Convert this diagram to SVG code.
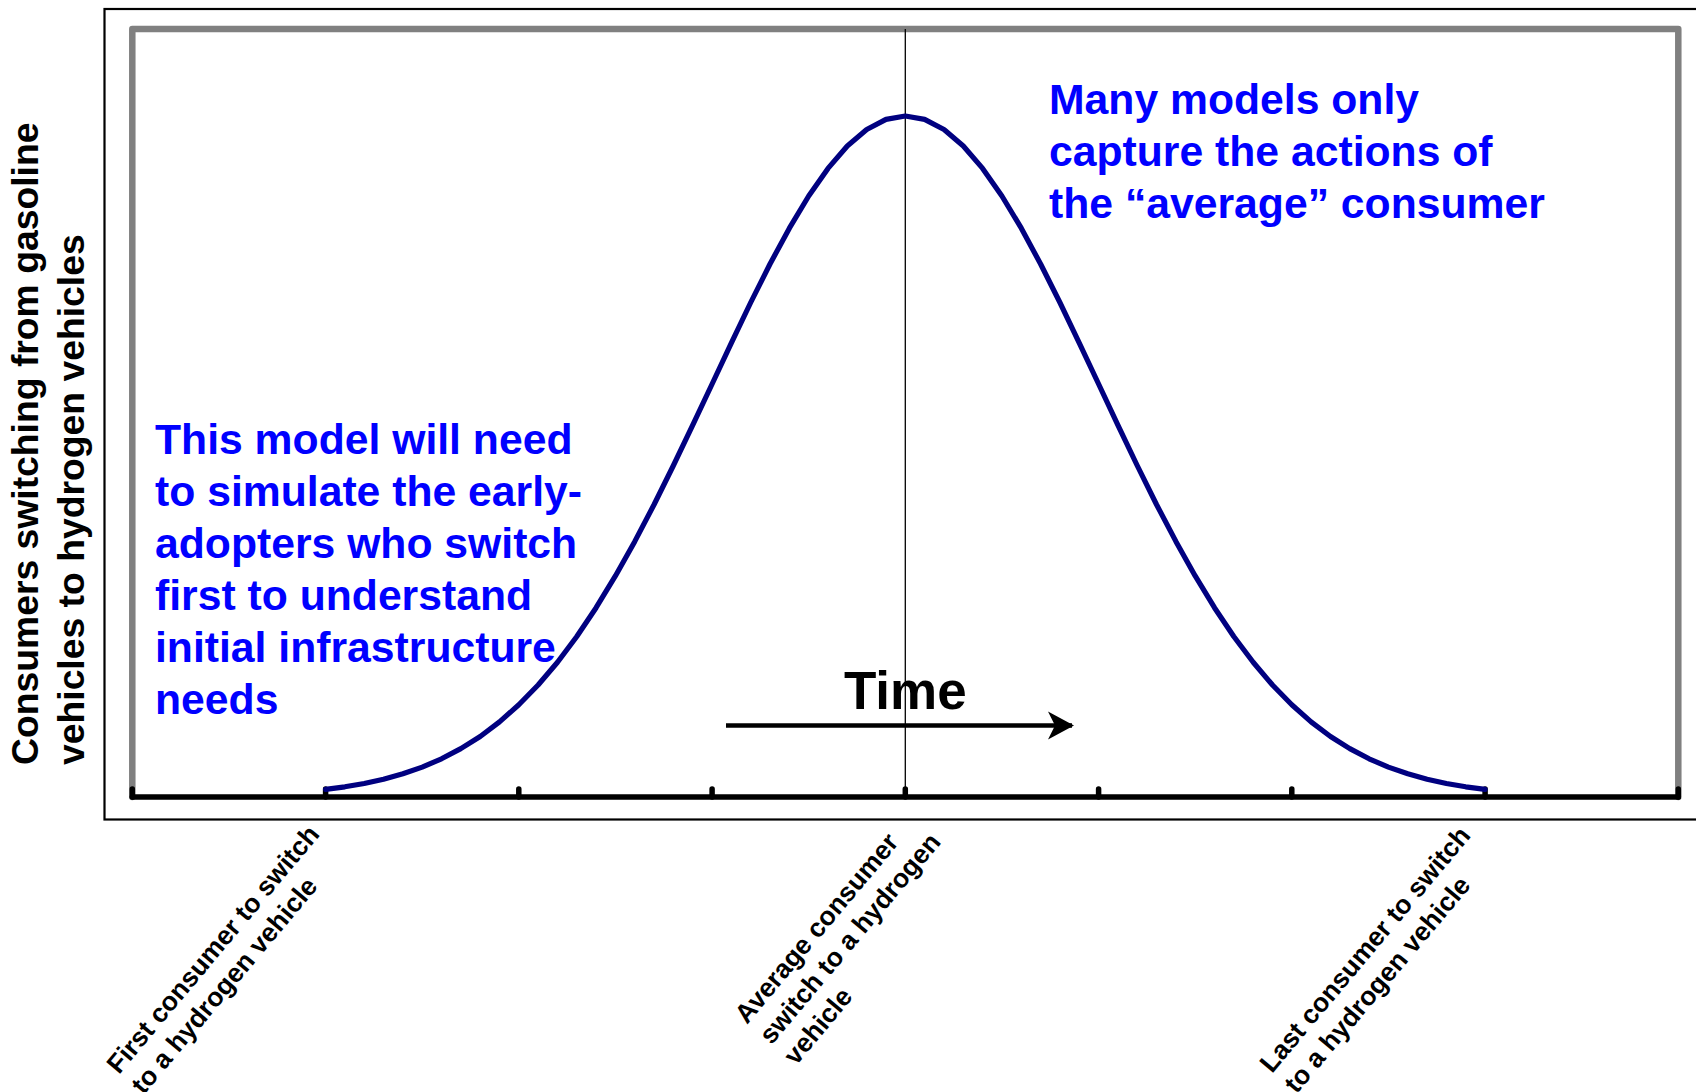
<svg xmlns="http://www.w3.org/2000/svg" width="1696" height="1092" viewBox="0 0 1696 1092">
  <defs>
    <style>
      .lbl { font-family: "Liberation Sans", Arial, sans-serif; font-weight: bold; }
      .blue { fill: #0000FF; font-size: 42.7px; }
      .ylab { fill: #000; font-size: 37.3px; }
      .xlab { fill: #000; font-size: 26.5px; }
      .time { fill: #000; font-size: 53px; }
      .gray { stroke: #808080; stroke-width: 6.5; fill: none; stroke-linecap: round; stroke-linejoin: round; }
      .axis { stroke: #000; stroke-width: 5.5; fill: none; stroke-linecap: round; }
    </style>
    <marker id="arrowhead" markerUnits="userSpaceOnUse" markerWidth="30" markerHeight="30" viewBox="0 0 30 30" refX="24" refY="15" orient="auto">
      <path d="M0,1 L26,15 L0,29 L7,15 Z" fill="#000"/>
    </marker>
  </defs>
  <rect width="1696" height="1092" fill="#fff"/>

  <g id="frame">
    <rect x="104.5" y="9" width="1620" height="810.5" fill="none" stroke="#000" stroke-width="2.2"/>
    <path class="gray" d="M132.3,797 L132.3,29 L1678.3,29 L1678.3,797"/>
  </g>

  <g id="axis">
    <line class="axis" x1="132.3" y1="797" x2="1678.3" y2="797"/>
    <path class="axis" d="M132.3,789 V797 M325.6,789 V797 M518.8,789 V797 M712.1,789 V797 M905.3,789 V797 M1098.6,789 V797 M1291.8,789 V797 M1485.1,789 V797 M1678.3,789 V797"/>
  </g>

  <g id="connectors">
    <line id="center-line" x1="905.3" y1="29" x2="905.3" y2="797" stroke="#000" stroke-width="1.3"/>
    <line id="time-arrow" x1="726" y1="725.5" x2="1072" y2="725.5" stroke="#000" stroke-width="4.5" marker-end="url(#arrowhead)"/>
  </g>

  <g id="curve">
    <path d="M325.6,789.4 L344.9,786.8 L364.2,783.5 L383.5,779.2 L402.9,773.8 L422.2,767.1 L441.5,758.8 L460.8,748.6 L480.2,736.5 L499.5,721.9 L518.8,704.8 L538.1,685.0 L557.5,662.2 L576.8,636.5 L596.1,607.7 L615.4,575.9 L634.8,541.4 L654.1,504.5 L673.4,465.5 L692.7,425.1 L712.1,384.0 L731.4,342.8 L750.7,302.5 L770.0,264.0 L789.4,228.2 L808.7,196.0 L828.0,168.4 L847.3,146.0 L866.7,129.5 L886.0,119.4 L905.3,116.0 L924.6,119.4 L944.0,129.5 L963.3,146.0 L982.6,168.4 L1001.9,196.0 L1021.3,228.2 L1040.6,264.0 L1059.9,302.5 L1079.2,342.8 L1098.6,384.0 L1117.9,425.1 L1137.2,465.5 L1156.5,504.5 L1175.9,541.4 L1195.2,575.9 L1214.5,607.7 L1233.8,636.5 L1253.2,662.2 L1272.5,685.0 L1291.8,704.8 L1311.1,721.9 L1330.5,736.5 L1349.8,748.6 L1369.1,758.8 L1388.4,767.1 L1407.8,773.8 L1427.1,779.2 L1446.4,783.5 L1465.7,786.8 L1485.1,789.4" fill="none" stroke="#000080" stroke-width="5.2" stroke-linejoin="round" stroke-linecap="round"/>
  </g>

  <g id="note-early-adopters">
    <text class="lbl blue" x="155" y="454">This model will need</text>
    <text class="lbl blue" x="155" y="506">to simulate the early-</text>
    <text class="lbl blue" x="155" y="558">adopters who switch</text>
    <text class="lbl blue" x="155" y="610">first to understand</text>
    <text class="lbl blue" x="155" y="662">initial infrastructure</text>
    <text class="lbl blue" x="155" y="714">needs</text>
  </g>

  <g id="note-average">
    <text class="lbl blue" x="1049" y="114">Many models only</text>
    <text class="lbl blue" x="1049" y="166">capture the actions of</text>
    <text class="lbl blue" x="1049" y="218">the “average” consumer</text>
  </g>

  <g id="time-label">
    <text class="lbl time" x="905.3" y="709" text-anchor="middle">Time</text>
  </g>

  <g id="y-axis-label" transform="translate(38,765) rotate(-90)">
    <text class="lbl ylab" x="0" y="0">Consumers switching from gasoline</text>
    <text class="lbl ylab" x="0" y="46">vehicles to hydrogen vehicles</text>
  </g>

  <g id="label-first" transform="translate(119,1075) rotate(-50)">
    <text class="lbl xlab" x="0" y="0">First consumer to switch</text>
    <text class="lbl xlab" x="0" y="32">to a hydrogen vehicle</text>
  </g>

  <g id="label-average" transform="translate(747,1025) rotate(-50)">
    <text class="lbl xlab" x="0" y="0">Average consumer</text>
    <text class="lbl xlab" x="0" y="32">switch to a hydrogen</text>
    <text class="lbl xlab" x="0" y="64">vehicle</text>
  </g>

  <g id="label-last" transform="translate(1272,1074) rotate(-50)">
    <text class="lbl xlab" x="0" y="0">Last consumer to switch</text>
    <text class="lbl xlab" x="0" y="32">to a hydrogen vehicle</text>
  </g>
</svg>
